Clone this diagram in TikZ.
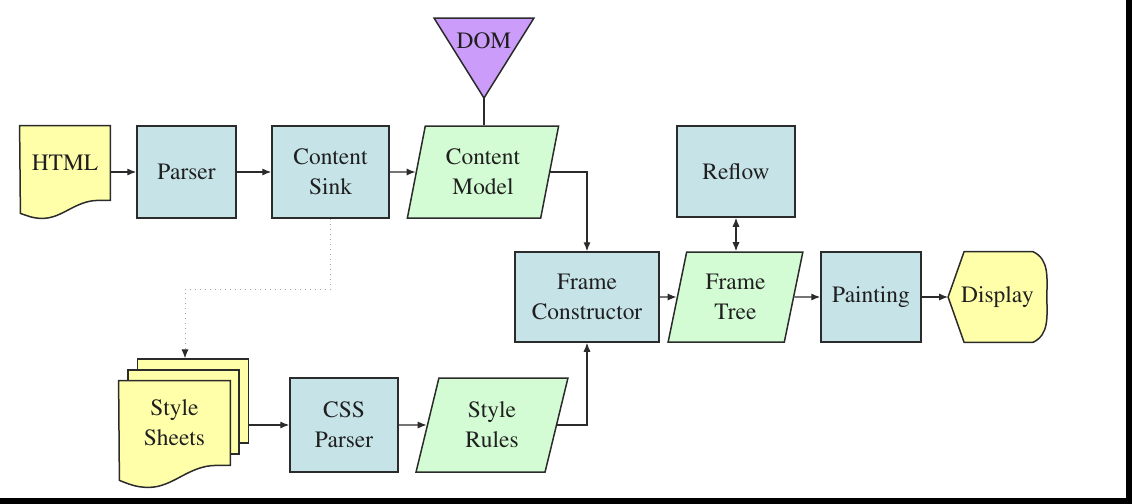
\documentclass[tikz,border=0pt]{standalone}
\usepackage[T1]{fontenc}
\usepackage{mathptmx}
\usepackage{xcolor}
\usepackage{tikz}
\usetikzlibrary{arrows.meta,positioning,shapes.geometric,backgrounds}
\definecolor{geckoBlue}{HTML}{C6E4E8}
\definecolor{geckoYellow}{HTML}{FFFFAA}
\definecolor{geckoGreen}{HTML}{D4FCD4}
\definecolor{geckoPurple}{HTML}{CC9CFA}
\definecolor{geckoLine}{HTML}{2B2B2B}
\definecolor{geckoDots}{HTML}{A0A0A0}

\begin{document}
\begin{tikzpicture}[
  x=0.5pt,y=-0.5pt,
  lbl/.style={font=\fontsize{11.7}{15}\selectfont,text=black!88,align=center,inner sep=0pt},
  box/.style={lbl,rectangle,draw=geckoLine,fill=geckoBlue,line width=0.75pt,minimum height=45pt},
  datashape/.style={lbl,trapezium,trapezium left angle=76,trapezium right angle=104,trapezium stretches=true,draw=geckoLine,fill=geckoGreen,line width=0.75pt,minimum height=45pt},
  sheet/.style={rectangle,draw=geckoLine,fill=geckoYellow,line width=0.75pt,minimum width=55.5pt,minimum height=42pt},
  docshape/.style={draw=geckoLine,fill=geckoYellow,line width=0.75pt},
  arrow/.style={-{Latex[length=4.5pt,width=3.6pt]},line width=0.65pt,color=geckoLine}
]
\useasboundingbox (0,0) rectangle (1132,504);
\fill[black] (1126,0) rectangle (1132,504);
\fill[black] (0,498) rectangle (1132,504);
% content path
\node[lbl,minimum width=45pt,minimum height=37pt] (html) at (65,163) {HTML};
\begin{scope}[on background layer]
\draw[docshape] (html.north west) -- (html.north east) -- (html.south east) -- ++(-12,0)
  .. controls +(-23,0) and +(20,0) .. ++(-56,18) .. controls +(-10,0) and +(6,2) .. ++(-22,-5) -- cycle;
\end{scope}
\node[box,minimum width=49.5pt,minimum height=46pt] (parser) at (186.5,172) {Parser};
\node[box,minimum width=58.5pt,minimum height=46pt] (sink) at (330.5,172) {Content\\Sink};
\node[datashape,minimum width=76pt,minimum height=46pt] (model) at (483,172) {Content\\Model};
\filldraw[fill=geckoPurple,draw=geckoLine,line width=0.75pt] (434,18) -- (534,18) -- (484,98) -- cycle;
\node[lbl] (dom) at (484,41) {DOM};
\coordinate (domtip) at (484,98);
\node[box,minimum width=59pt,minimum height=45.5pt] (reflow) at (736,171.5) {Reflow};
% frame row
\node[box,minimum width=72pt] (fc) at (587,297) {Frame\\Constructor};
\node[datashape,minimum width=67.5pt] (tree) at (735.5,297) {Frame\\Tree};
\node[box,minimum width=50pt] (paint) at (871,297) {Painting};
\node[lbl,minimum width=49pt,minimum height=45pt] (display) at (997.5,297) {Display};
\begin{scope}[on background layer]
\draw[docshape] (display.west) -- ([xshift=8pt]display.north west) -- ([xshift=-7pt]display.north east)
  to[out=-25,in=90] (display.east) to[out=-90,in=25] ([xshift=-7pt]display.south east)
  -- ([xshift=8pt]display.south west) -- cycle;
\end{scope}
% style path
\node[lbl,minimum width=55.5pt,minimum height=42pt] (sheets) at (174.5,423) {Style\\Sheets};
\begin{scope}[on background layer]
\node[sheet] (sheetsback) at (193,401) {};
\node[sheet] (sheetsmid) at (183.5,412) {};
\draw[docshape] (sheets.north west) -- (sheets.north east) -- (sheets.south east) -- ++(-14,0)
  .. controls +(-28,0) and +(25,0) .. ++(-68,22) .. controls +(-13,0) and +(8,3) .. ++(-29,-7) -- cycle;
\end{scope}
\node[box,minimum width=54pt,minimum height=47pt] (css) at (344,425) {CSS\\Parser};
\node[datashape,minimum width=76pt,minimum height=47pt] (rules) at (492,425) {Style\\Rules};
\coordinate (sinkbend) at (185,289);
\draw[arrow] (html.east |- parser.west) -- (parser);
\draw[arrow] (parser) -- (sink);
\draw[arrow] (sink) -- (model);
\draw[line width=0.65pt,color=geckoLine] (domtip) -- (domtip |- model.north);
\draw[arrow] (model.east) -| (fc.north);
\draw[arrow,{Latex[length=4.5pt,width=3.6pt]}-{Latex[length=4.5pt,width=3.6pt]}] (reflow.south) -- (reflow.south |- tree.north);
\draw[arrow] (fc) -- (tree);
\draw[arrow] (tree) -- (paint);
\draw[arrow] (paint) -- (display.west);
\draw[dotted,color=geckoDots,line width=0.5pt,-{Latex[length=4.5pt,width=3.6pt,color=geckoLine]}] (sink.south) |- (sinkbend) -- (sinkbend |- sheetsback.north);
\draw[arrow] (sheetsback.east |- css.west) -- (css);
\draw[arrow] (css) -- (rules);
\draw[arrow] (rules.east) -| (fc.south);
\end{tikzpicture}
\end{document}
